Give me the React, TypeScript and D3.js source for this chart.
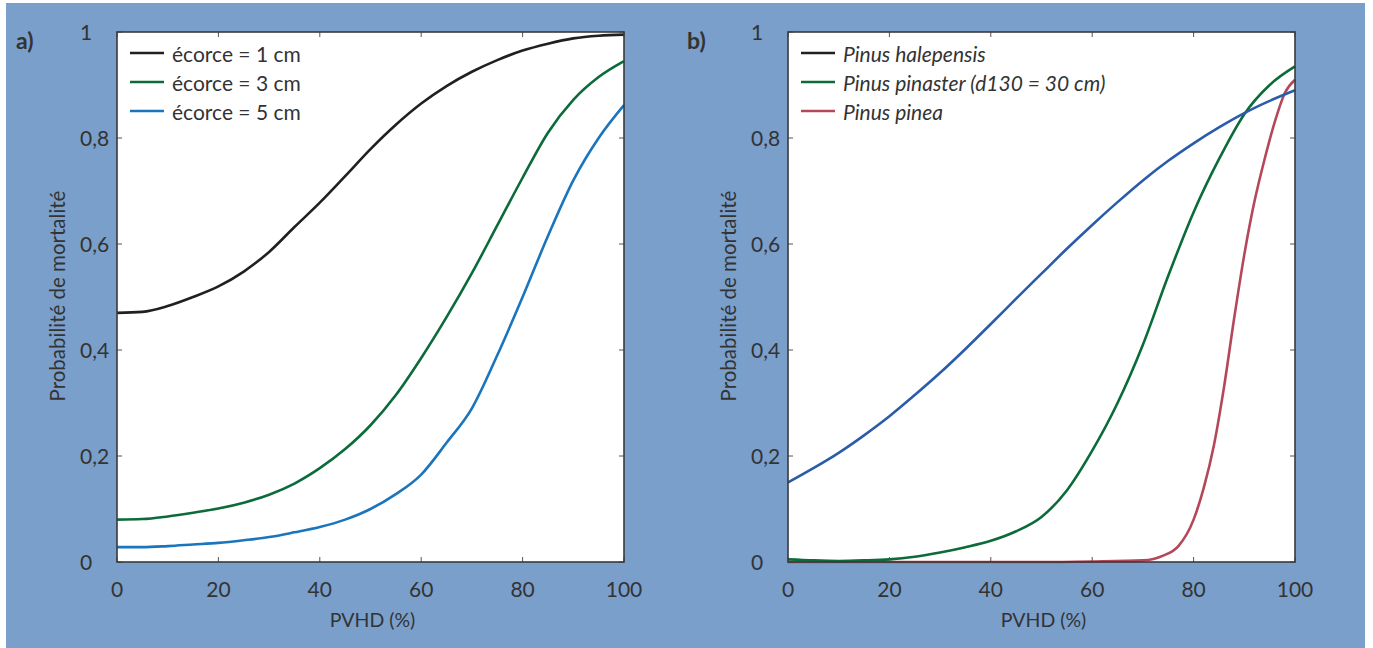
import React from "react";
import * as d3 from "d3";

// ---------- data ----------
const pvhd = [0, 5, 10, 15, 20, 25, 30, 35, 40, 45, 50, 55, 60, 65, 70, 75, 80, 85, 90, 95, 100];

const ecorce1 = [0.47, 0.472, 0.483, 0.5, 0.52, 0.548, 0.585, 0.632, 0.678, 0.728, 0.779, 0.825, 0.865, 0.898, 0.925, 0.947, 0.965, 0.978, 0.988, 0.993, 0.995];
const ecorce3 = [0.08, 0.081, 0.086, 0.093, 0.101, 0.112, 0.127, 0.148, 0.177, 0.213, 0.258, 0.315, 0.385, 0.462, 0.545, 0.635, 0.725, 0.81, 0.872, 0.915, 0.945];
const ecorce5 = [0.028, 0.028, 0.03, 0.033, 0.036, 0.041, 0.047, 0.056, 0.066, 0.08, 0.1, 0.128, 0.165, 0.225, 0.29, 0.39, 0.5, 0.615, 0.72, 0.8, 0.862];

const halepensis = [0.15, 0.177, 0.206, 0.239, 0.275, 0.315, 0.357, 0.402, 0.449, 0.497, 0.544, 0.591, 0.636, 0.679, 0.72, 0.757, 0.79, 0.82, 0.847, 0.87, 0.89];
const pinaster = [0.005, 0.003, 0.002, 0.003, 0.005, 0.01, 0.018, 0.028, 0.04, 0.058, 0.085, 0.135, 0.21, 0.3, 0.41, 0.54, 0.66, 0.76, 0.845, 0.9, 0.935];
const pineaX = [0, 10, 20, 30, 40, 50, 60, 70, 74, 77, 80, 82, 84, 86, 88, 90, 92, 94, 96, 98, 100];
const pinea = [0, 0, 0, 0, 0, 0, 0.001, 0.003, 0.012, 0.03, 0.08, 0.14, 0.22, 0.33, 0.46, 0.58, 0.68, 0.76, 0.83, 0.885, 0.91];

const xTicks = [0, 20, 40, 60, 80, 100];
const yTicks = [0, 0.2, 0.4, 0.6, 0.8, 1];
const yTickLabels = ["0", "0,2", "0,4", "0,6", "0,8", "1"];

const legendA = ["écorce = 1 cm", "écorce = 3 cm", "écorce = 5 cm"];
const legendB = ["Pinus halepensis", "Pinus pinaster (d130 = 30 cm)", "Pinus pinea"];

// ---------- style ----------
const W = 1373;
const H = 648;
const BG = "#7a9fcb";
const TXT = "#333333";
const FONT = "Lato, 'Open Sans', sans-serif";
const C_BLACK = "#231f20";
const C_GREEN = "#0b6b3a";
const C_BLUE_A = "#1b75bc";
const C_BLUE_B = "#2a5caa";
const C_RED = "#b5475a";

type Series = { xs: number[]; ys: number[]; color: string };

function Panel(props: {
  left: number;
  label: string;
  series: Series[];
  legend: string[];
  legendColors: string[];
  italic: boolean;
}) {
  const { left, label, series, legend, legendColors, italic } = props;
  const top = 32;
  const bottom = 562;
  const right = left + 507;
  const x = d3.scaleLinear().domain([0, 100]).range([left, right]);
  const y = d3.scaleLinear().domain([0, 1]).range([bottom, top]);
  const line = d3
    .line<[number, number]>()
    .x((d) => x(d[0]))
    .y((d) => y(d[1]))
    .curve(d3.curveMonotoneX);
  const tl = 5;
  return (
    <g>
      <rect x={left} y={top} width={right - left} height={bottom - top} fill="#ffffff" />
      {series.map((s, i) => (
        <path
          key={i}
          d={line(s.xs.map((v, j) => [v, s.ys[j]] as [number, number])) || ""}
          fill="none"
          stroke={s.color}
          strokeWidth={2.6}
        />
      ))}
      {/* ticks */}
      {xTicks.map((t) => (
        <g key={"xt" + t}>
          <line x1={x(t)} x2={x(t)} y1={bottom} y2={bottom - tl} stroke="#555" strokeWidth={1} />
          <line x1={x(t)} x2={x(t)} y1={top} y2={top + tl} stroke="#555" strokeWidth={1} />
          <text x={x(t)} y={597} textAnchor="middle" fontSize={21} fill={TXT} fontFamily={FONT}>
            {t}
          </text>
        </g>
      ))}
      {yTicks.map((t, i) => (
        <g key={"yt" + t}>
          <line x1={left} x2={left + tl} y1={y(t)} y2={y(t)} stroke="#555" strokeWidth={1} />
          <line x1={right} x2={right - tl} y1={y(t)} y2={y(t)} stroke="#555" strokeWidth={1} />
          <text x={left - 37} y={y(t) + 7.5} textAnchor="start" fontSize={21} fill={TXT} fontFamily={FONT}>
            {yTickLabels[i]}
          </text>
        </g>
      ))}
      <rect x={left} y={top} width={right - left} height={bottom - top} fill="none" stroke="#3a3a3a" strokeWidth={1.6} />
      {/* legend */}
      {legend.map((l, i) => (
        <g key={"lg" + i}>
          <line x1={left + 13} x2={left + 47} y1={53 + i * 29} y2={53 + i * 29} stroke={legendColors[i]} strokeWidth={2.6} />
          <text
            x={left + 55}
            y={53 + i * 29 + 8.5}
            fontSize={21}
            fill={TXT}
            fontFamily={FONT}
            fontStyle={italic ? "italic" : "normal"}
          >
            {l}
          </text>
        </g>
      ))}
      <text x={(left + right) / 2 + 2} y={627} textAnchor="middle" fontSize={19.5} fill={TXT} fontFamily={FONT}>
        PVHD (%)
      </text>
      <text
        transform={`translate(${left - 52},${(top + bottom) / 2 - 1}) rotate(-90)`}
        textAnchor="middle"
        fontSize={20.5}
        fill={TXT}
        fontFamily={FONT}
      >
        Probabilité de mortalité
      </text>
      <text x={left - 101} y={49} fontSize={23} fontWeight="bold" fill={TXT} fontFamily={FONT}>
        {label}
      </text>
    </g>
  );
}

export default function App() {
  return (
    <div style={{ position: "absolute", left: 0, top: 0 }}>
      <svg width={W} height={H} style={{ display: "block" }}>
        <rect x={0} y={0} width={W} height={H} fill="#ffffff" />
        <rect x={6} y={3} width={1359} height={645} fill={BG} />
        <Panel
          left={117}
          label="a)"
          series={[
            { xs: pvhd, ys: ecorce1, color: C_BLACK },
            { xs: pvhd, ys: ecorce3, color: C_GREEN },
            { xs: pvhd, ys: ecorce5, color: C_BLUE_A },
          ]}
          legend={legendA}
          legendColors={[C_BLACK, C_GREEN, C_BLUE_A]}
          italic={false}
        />
        <Panel
          left={788}
          label="b)"
          series={[
            { xs: pineaX, ys: pinea, color: C_RED },
            { xs: pvhd, ys: pinaster, color: C_GREEN },
            { xs: pvhd, ys: halepensis, color: C_BLUE_B },
          ]}
          legend={legendB}
          legendColors={[C_BLACK, C_GREEN, C_RED]}
          italic={true}
        />
      </svg>
    </div>
  );
}
